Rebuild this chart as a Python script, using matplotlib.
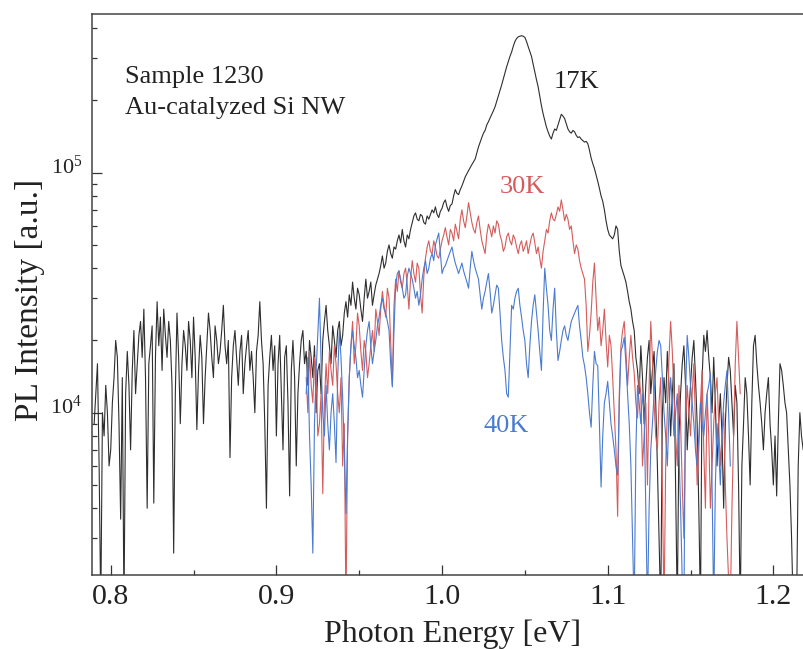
import numpy as np
import matplotlib
matplotlib.use("Agg")
import matplotlib.pyplot as plt
from matplotlib.ticker import FixedLocator, FixedFormatter, LogLocator, NullFormatter, MultipleLocator
from matplotlib.transforms import ScaledTranslation

plt.rcParams['font.family'] = ['Liberation Serif', 'DejaVu Serif']
plt.rcParams['mathtext.fontset'] = 'custom'
plt.rcParams['mathtext.rm'] = 'Liberation Serif'
plt.rcParams['mathtext.it'] = 'Liberation Serif:italic'

# PL spectra, intensity in units of 10^3 counts, sampled every 1 meV
step = 0.001
start_17K = 0.790
int_17K = [
    9, 12, 16, 6, 1.5, 10, 8, 13, 10, 6,
    7, 11, 14, 20, 17, 9, 3.6, 14, 1.5, 12,
    18, 13, 7, 15, 22, 12, 16, 21, 24, 17,
    27, 14, 4, 16, 19, 23, 4.2, 17, 29, 19,
    25, 15, 27, 21, 17, 24, 20, 13, 2.6, 12,
    26, 17, 9, 16, 22, 19, 15, 24, 20, 14,
    25, 17, 8.5, 15, 21, 17, 9, 14, 19, 26,
    22, 17, 14, 23, 20, 16, 18, 22, 28, 19,
    16, 20, 6.5, 14, 19, 22, 17, 13, 18, 21,
    12, 16, 19, 22, 15, 18, 14, 10, 18, 21,
    29, 20, 16, 9, 4, 13, 17, 21, 15, 19,
    8, 16, 21, 12, 7, 17, 19, 11, 4.5, 15,
    20, 14, 6, 12, 16, 20, 22, 16, 18, 13,
    20, 17, 14, 19, 10, 15, 16, 12, 20, 24,
    28, 22, 19, 16, 23, 20, 17, 22, 24, 19,
    21, 26, 29, 25, 31, 28, 35, 30, 27, 33,
    31, 27, 24, 30, 36, 30, 32, 35, 28, 31,
    34, 36, 38, 41, 45, 40, 42, 47, 50, 46,
    44, 49, 48, 52, 55, 51, 58, 52, 49, 55,
    53, 58, 62, 66, 68, 64, 63, 67, 66, 62,
    61, 66, 64, 67, 70, 68, 72, 67, 65, 69,
    71, 75, 77, 72, 69, 73, 74, 80, 85, 82,
    81, 85, 88, 92, 96, 99, 102, 105, 108, 111,
    114, 121, 128, 134, 140, 146, 150, 158, 163, 169,
    175, 181, 188, 198, 208, 220, 232, 246, 260, 276,
    290, 305, 318, 336, 352, 362, 368, 370, 372, 370,
    366, 352, 335, 320, 305, 283, 262, 244, 228, 208,
    190, 176, 165, 155, 148, 142, 138, 146, 152, 150,
    158, 166, 175, 172, 168, 160, 152, 148, 146, 150,
    148, 143, 140, 141, 138, 136, 134, 135, 132, 124,
    115, 109, 104, 98, 92, 86, 80, 76, 70, 63,
    58, 55, 54, 53, 55, 60, 58, 47, 41, 39,
    37, 35, 32, 29, 27, 24, 22, 17, 15, 12,
    19, 14, 9, 13, 17, 20, 12, 15, 18, 11,
    6, 3, 1.5, 10, 14, 11, 18, 13, 8, 12,
    16, 5, 1.5, 8, 12, 16, 19, 13, 7, 10,
    13, 17, 20, 14, 9, 4, 1.5, 14, 21, 18,
    22, 17, 14, 10, 17, 11, 6, 9, 12, 8,
    4, 9, 13, 17, 15, 11, 8, 13, 11, 5,
    1.5, 6, 9, 14, 12, 8, 5, 11, 19, 21,
    16, 13, 11, 9, 7, 10, 12, 14, 9, 7,
    5, 8, 4.5, 9, 16, 15, 13, 11, 10, 7,
    5, 3, 1.5, 1.5, 1.5, 6, 10, 8, 7, 9,
    8,
]

start_30K = 0.918
int_30K = [
    14, 10, 18, 13, 11, 17, 15, 8, 9, 12,
    4.6, 11, 16, 12, 18, 15, 13, 19, 16, 12,
    10, 14, 6, 9, 1.5, 8, 14, 19, 24, 16,
    19, 26, 23, 18, 15, 20, 18, 14, 16, 19,
    22, 18, 27, 24, 21, 27, 32, 28, 25, 33,
    30, 20, 13, 28, 36, 32, 39, 35, 33, 38,
    40, 34, 27, 36, 43, 38, 35, 42, 40, 31,
    26, 37, 44, 49, 52, 47, 46, 52, 49, 45,
    44, 48, 52, 55, 59, 54, 50, 58, 56, 52,
    61, 57, 53, 64, 70, 63, 59, 66, 75, 68,
    62, 58, 56, 62, 66, 58, 52, 49, 46, 55,
    61, 58, 54, 60, 56, 63, 61, 55, 52, 47,
    49, 54, 56, 52, 50, 55, 53, 49, 46, 50,
    52, 47, 49, 52, 46, 50, 54, 56, 51, 46,
    49, 44, 40, 47, 52, 58, 56, 63, 68, 64,
    63, 67, 72, 69, 77, 70, 63, 67, 64, 58,
    60, 52, 46, 50, 48, 43, 40, 38, 36, 28,
    18, 21, 26, 35, 42, 30, 22, 25, 19, 22,
    27, 20, 15.5, 21, 19, 14, 10, 7, 3.7, 12,
    19, 22, 24, 18, 13, 17, 21, 17, 14.6, 11,
    9.5, 14, 12, 6, 8, 11, 5, 13, 24, 17,
    11, 8, 7, 11, 14, 5, 1.5, 6, 10, 17,
    24, 18, 12, 8, 6, 13, 9, 5, 3, 9,
    13, 10, 8, 12, 16, 9, 5, 7, 11, 15,
    7, 4, 12, 8, 4, 6, 9, 12, 14, 9,
    6, 8, 10, 5, 3, 2, 1.5, 4, 8, 16,
    24, 17, 12,
]

start_40K = 0.918
int_40K = [
    12, 17, 8, 5, 2.6, 9, 15, 21, 30, 16,
    10, 8, 13, 9, 7, 10, 12, 9, 6.2, 14,
    22, 17, 11.6, 7, 3.8, 8, 14, 19, 22, 19,
    17, 14, 15, 13, 11.6, 15, 19, 22, 24, 19,
    16, 18, 20, 23, 25, 28, 30, 27, 26, 24,
    22, 16, 12.8, 22, 34, 38, 39, 36, 33, 30,
    31, 37, 40, 38, 36, 33, 30, 32, 28, 31,
    36, 40, 43, 38, 40, 44, 46, 43, 50, 53,
    56, 46, 38, 40, 41, 43, 45, 47, 49, 45,
    42, 40, 38, 40, 42, 39, 37, 35, 33, 40,
    47, 43, 40, 38, 36, 31, 27, 30, 32, 35,
    38, 32, 26, 28, 31, 34, 33, 26, 20, 17,
    15, 12, 11.6, 18, 28, 27, 30, 32, 33, 28,
    25, 22, 20, 16, 14, 19, 24, 28, 31, 26,
    22, 18, 15, 26, 40, 33, 28, 22, 20, 27,
    33, 22, 16.5, 18, 20, 22, 23, 21, 20, 22,
    24, 25, 26, 27, 28, 23, 20, 17, 15.7, 14,
    12, 10, 8.7, 13, 18, 16, 15.7, 9, 4.9, 8,
    11, 12, 13.5, 11, 9, 8, 7, 6, 5.5, 11,
    18, 19, 20.6, 16, 12, 9, 6, 3, 1.5, 7,
    13, 11, 9, 12, 10, 4, 1.5, 4, 7, 9,
    12, 15, 18, 20, 19, 14, 10, 8, 6, 10,
    14, 11, 8, 10, 12, 7, 4, 2, 1.5, 12,
    21, 17, 13, 11, 9, 7, 6, 8, 11, 9,
    8, 10, 12, 13, 14.5, 5, 1.5, 5, 9, 7,
    5, 8, 11, 13, 15, 10, 6,
]

x_ticks = [0.8, 0.9, 1.0, 1.1, 1.2]
x_tick_labels = ["0.8", "0.9", "1.0", "1.1", "1.2"]
y_ticks = [1e4, 1e5]
y_tick_labels = [r"$10^{4}$", r"$10^{5}$"]


def energy(start, values):
    return start + step * np.arange(len(values))


fig = plt.figure(figsize=(8.04, 6.49), dpi=100)
ax = fig.add_axes([92 / 804, 74 / 649, 712 / 804, 561 / 649])

series = [
    (start_17K, int_17K, "#2e2e2e"),
    (start_30K, int_30K, "#d65c5c"),
    (start_40K, int_40K, "#4a7bd0"),
]
for start, vals, color in series:
    ax.plot(energy(start, vals), np.asarray(vals) * 1e3, color=color, lw=0.8)

ax.set_yscale("log")
ax.set_xlim(0.7887, 1.2185)
ax.set_ylim(2108, 4.58e5)

ax.xaxis.set_major_locator(FixedLocator(x_ticks))
ax.xaxis.set_major_formatter(FixedFormatter(x_tick_labels))
ax.xaxis.set_minor_locator(MultipleLocator(0.05))
ax.yaxis.set_major_locator(FixedLocator(y_ticks))
ax.yaxis.set_major_formatter(FixedFormatter(y_tick_labels))
ax.yaxis.set_minor_locator(LogLocator(base=10, subs=np.arange(2, 10)))
ax.yaxis.set_minor_formatter(NullFormatter())

ax.tick_params(which="both", direction="in", color="#333333", width=0.9,
               top=False, right=False)
ax.tick_params(which="major", length=7.2)
ax.tick_params(which="minor", length=3.8)
ax.tick_params(axis="x", which="major", labelsize=21.5, pad=6.5, labelcolor="#222222")
ax.tick_params(axis="y", which="major", labelsize=16, pad=7, labelcolor="#222222")
for lab in ax.get_yticklabels():
    lab.set_transform(lab.get_transform() + ScaledTranslation(0, 5.5 / 72, fig.dpi_scale_trans))

for side in ("left", "bottom", "top"):
    ax.spines[side].set_color("#444444")
    ax.spines[side].set_linewidth(1.1)
ax.spines["right"].set_visible(False)

ax.set_xlabel("Photon Energy [eV]", fontsize=23, color="#222222")
ax.xaxis.set_label_coords(0.506, -0.080)
ax.set_ylabel("PL Intensity [a.u.]", fontsize=24, color="#222222")
ax.yaxis.set_label_coords(-0.066, 0.49)

ax.text(0.0463, 0.8775, "Sample 1230", transform=ax.transAxes, fontsize=19,
        color="#222222", ha="left", va="baseline")
ax.text(0.0463, 0.8226, "Au-catalyzed Si NW", transform=ax.transAxes, fontsize=19,
        color="#222222", ha="left", va="baseline")

ax.text(1.0671, 2.25e5, "17K", fontsize=19, color="#222222", ha="left", va="baseline")
ax.text(1.0351, 8.2e4, "30K", fontsize=19, color="#d65c5c", ha="left", va="baseline")
ax.text(1.0248, 8.3e3, "40K", fontsize=19, color="#4a7bd0", ha="left", va="baseline")

fig.savefig("out.png", dpi=100, facecolor="white")
